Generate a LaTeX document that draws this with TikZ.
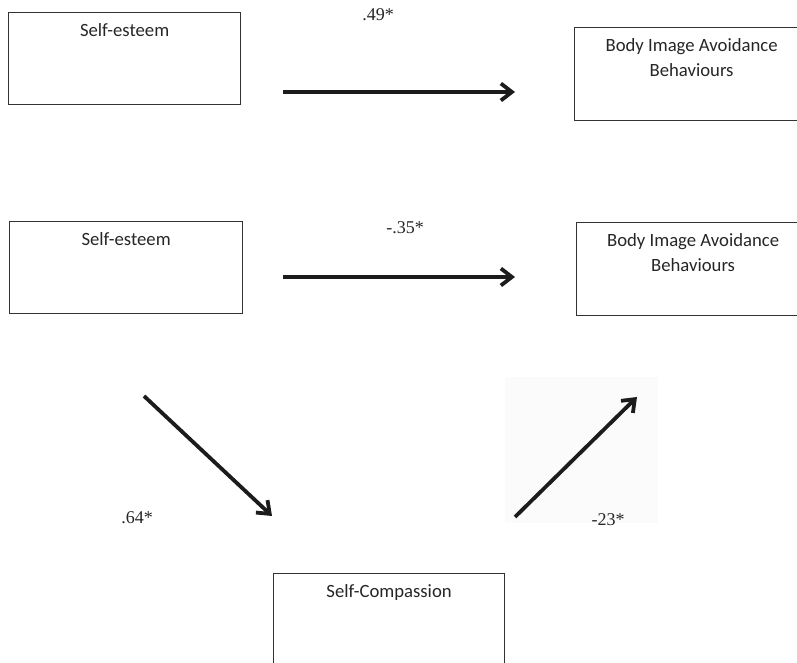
\documentclass[tikz,border=0pt]{standalone}
\usepackage{fontspec}
\setmainfont{Liberation Serif}
\newfontfamily\boxfont{Carlito}
\usetikzlibrary{arrows.meta,positioning}
\definecolor{boxline}{HTML}{333333}
\definecolor{arrowcol}{HTML}{1C1C1C}
\definecolor{pastebg}{HTML}{FBFBFB}
\tikzset{
  box/.style={draw=boxline, line width=1.2pt, anchor=north west, inner sep=0pt},
  boxtxt/.style={font=\boxfont\fontsize{18.7}{25}\selectfont, text=black!85, align=center, inner sep=0pt},
  effect/.style={line width=3.8pt, draw=arrowcol, -{Straight Barb[length=11pt,width=17pt]}},
  coef/.style={font=\fontsize{18}{18}\selectfont, text=black!85, inner sep=0pt},
}
\begin{document}
\begin{tikzpicture}[x=1pt,y=1pt]
\useasboundingbox (0,0) rectangle (797,663);
\clip (0,0) rectangle (797,663);
\fill[pastebg] (505,286) rectangle (658,140);
% top model
\node[box, minimum width=232pt, minimum height=92pt] (se1) at (8,651){};
\node[boxtxt, below=11pt of se1.north] (se1t){Self-esteem};
\node[box, minimum width=234pt, minimum height=93pt] (bia1) at (574,636){};
\node[boxtxt, below=11pt of bia1.north] (bia1t){Body Image Avoidance\\Behaviours};
\coordinate (a1s) at (283,571);
\coordinate (a1e) at (515,571);
\draw[effect](a1s) -- (a1e);
\node[coef] (c1) at (378,648){.49*};
% mediation model
\node[box, minimum width=233pt, minimum height=92pt] (se2) at (9,442){};
\node[boxtxt, below=11pt of se2.north] (se2t){Self-esteem};
\node[box, minimum width=233pt, minimum height=93pt] (bia2) at (576,441){};
\node[boxtxt, below=11pt of bia2.north] (bia2t){Body Image Avoidance\\Behaviours};
\node[box, minimum width=231pt, minimum height=95pt] (sc) at (273,90){};
\node[boxtxt, below=11pt of sc.north] (sct){Self-Compassion};
\coordinate (a2s) at (283,386);
\coordinate (a2e) at (515,386);
\coordinate (a3s) at (144,267);
\coordinate (a3e) at (272,147);
\coordinate (a4s) at (515,146);
\coordinate (a4e) at (637,266);
\draw[effect](a2s) -- (a2e);
\draw[effect](a3s) -- (a3e);
\draw[effect](a4s) -- (a4e);
\node[coef] (c2) at (405,435){-.35*};
\node[coef] (c3) at (137,145){.64*};
\node[coef] (c4) at (608,143){-23*};
\end{tikzpicture}
\end{document}
